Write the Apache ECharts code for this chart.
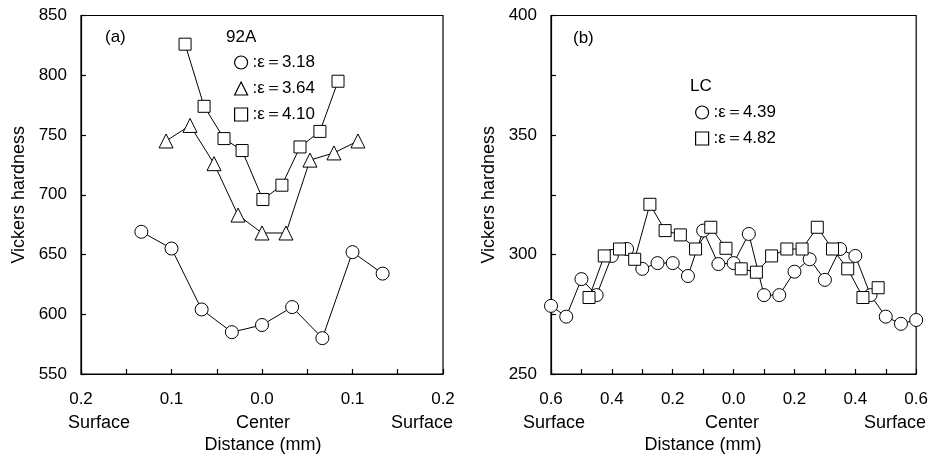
<!DOCTYPE html>
<html><head><meta charset="utf-8">
<script src="https://cdn.jsdelivr.net/npm/echarts@6/dist/echarts.min.js"></script>
<style>html,body{margin:0;padding:0;background:#fff}#c{width:931px;height:456px}</style>
</head><body><div id="c"></div>
<script>
// Panel (a): 92A
const a318X = [-0.1333,-0.1,-0.0667,-0.0333,0,0.0333,0.0667,0.1,0.1333];
const a318Y = [669,655,604,585,591,606,580,652,634];
const a364X = [-0.106,-0.0795,-0.053,-0.0265,0,0.0265,0.053,0.0795,0.106];
const a364Y = [745,758,726,683,668,668,729,735,745];
const a410X = [-0.085,-0.064,-0.042,-0.022,0.001,0.022,0.042,0.064,0.084];
const a410Y = [826,774,747,737,696,708,740,753,795];
// Panel (b): LC
const b439X = [-0.6,-0.55,-0.5,-0.45,-0.4,-0.35,-0.3,-0.25,-0.2,-0.15,-0.1,-0.05,0,0.05,0.1,0.15,0.2,0.25,0.3,0.35,0.4,0.45,0.5,0.55,0.6];
const b439Y = [278.5,274,289.7,283,299.4,302.3,294,296.4,296.4,291,310,296,296.4,308.6,283,283,292.8,298,289.4,302.3,299.4,283,274,271,272.6];
const b482X = [-0.475,-0.425,-0.375,-0.325,-0.275,-0.225,-0.175,-0.125,-0.075,-0.025,0.025,0.075,0.125,0.175,0.225,0.275,0.325,0.375,0.425,0.475];
const b482Y = [282,299.4,302.3,298,321,310,308.2,302.3,311.4,302.6,294,292.6,299.4,302.3,302.3,311.4,302.3,294,282,286.1];
// Tick/labels
const posLabels = ['Surface','Center','Surface'];
const axisName = 'Vickers hardness';
const xName = 'Distance (mm)';

const pair = (xs, ys) => xs.map((x, i) => [x, ys[i]]);
const FONT = 'Liberation Sans, Arial, sans-serif';
const FS = 17;
const mk = (name, sym, size, xs, ys, idx) => ({
  name, type: 'line', xAxisIndex: idx, yAxisIndex: idx,
  data: pair(xs, ys), symbol: sym, symbolSize: size,
  lineStyle: {color: '#000', width: 1},
  itemStyle: {color: '#fff', borderColor: '#000', borderWidth: 1},
  emphasis: {disabled: true}, animation: false, z: 3
});
const legIcon = (name, icon) => ({name, icon, itemStyle: {color: '#fff', borderColor: '#000', borderWidth: 1.2}});
const ax = {
  axisLine: {show: true, onZero: false, lineStyle: {color: '#000', width: 1.2}},
  axisTick: {show: true, inside: true, length: 5, lineStyle: {color: '#000', width: 1.2}},
  splitLine: {show: false},
  axisLabel: {color: '#000', fontSize: FS, fontFamily: FONT}
};
const names = ['ε＝3.18', 'ε＝3.64', 'ε＝4.10', 'ε＝4.39', 'ε＝4.82'];
const option = {
  backgroundColor: '#fff',
  animation: false,
  grid: [
    {left: 81, right: 488, top: 15.5, bottom: 82, show: true, borderColor: '#000', borderWidth: 1.2},
    {left: 551, right: 14, top: 15.5, bottom: 82, show: true, borderColor: '#000', borderWidth: 1.2}
  ],
  xAxis: [
    Object.assign({}, ax, {type: 'value', gridIndex: 0, min: -0.2, max: 0.2, interval: 0.05,
      axisLabel: Object.assign({}, ax.axisLabel, {margin: 17,
        formatter: v => (Math.round(v * 100) % 10 === 0) ? Math.abs(v).toFixed(1) : ''})}),
    Object.assign({}, ax, {type: 'value', gridIndex: 1, min: -0.6, max: 0.6, interval: 0.1,
      axisLabel: Object.assign({}, ax.axisLabel, {margin: 17,
        formatter: v => (Math.round(v * 10) % 2 === 0) ? Math.abs(v).toFixed(1) : ''})})
  ],
  yAxis: [
    Object.assign({}, ax, {type: 'value', gridIndex: 0, min: 550, max: 850, interval: 50,
      name: axisName, nameLocation: 'middle', nameGap: 53, nameTextStyle: {color: '#000', fontSize: 18, fontFamily: FONT},
      axisLabel: Object.assign({}, ax.axisLabel, {margin: 14})}),
    Object.assign({}, ax, {type: 'value', gridIndex: 1, min: 250, max: 400, interval: 25,
      name: axisName, nameLocation: 'middle', nameGap: 53, nameTextStyle: {color: '#000', fontSize: 18, fontFamily: FONT},
      axisLabel: Object.assign({}, ax.axisLabel, {margin: 14, formatter: v => (v % 50 === 0) ? String(v) : ''})})
  ],
  legend: [
    {left: 229, top: 49, orient: 'vertical', itemWidth: 13, itemHeight: 13, itemGap: 9, selectedMode: false,
      textStyle: {color: '#000', fontSize: FS, fontFamily: FONT}, formatter: n => ':' + n,
      data: [legIcon(names[0], 'circle'), legIcon(names[1], 'triangle'), legIcon(names[2], 'rect')]},
    {left: 690, top: 99, orient: 'vertical', itemWidth: 13, itemHeight: 13, itemGap: 9, selectedMode: false,
      textStyle: {color: '#000', fontSize: FS, fontFamily: FONT}, formatter: n => ':' + n,
      data: [legIcon(names[3], 'circle'), legIcon(names[4], 'rect')]}
  ],
  series: [
    mk(names[0], 'circle', 13, a318X, a318Y, 0),
    mk(names[1], 'triangle', 14, a364X, a364Y, 0),
    mk(names[2], 'rect', 12, a410X, a410Y, 0),
    mk(names[3], 'circle', 13, b439X, b439Y, 1),
    mk(names[4], 'rect', 12, b482X, b482Y, 1)
  ],
  graphic: [
    {type: 'text', left: 105, top: 29, style: {text: '(a)', font: FS + 'px ' + FONT, fill: '#000'}},
    {type: 'text', left: 226, top: 29, style: {text: '92A', font: FS + 'px ' + FONT, fill: '#000'}},
    {type: 'text', left: 573, top: 30, style: {text: '(b)', font: FS + 'px ' + FONT, fill: '#000'}},
    {type: 'text', left: 690, top: 78, style: {text: 'LC', font: FS + 'px ' + FONT, fill: '#000'}},
    {type: 'text', x: 99, y: 423, style: {text: posLabels[0], font: '18px ' + FONT, fill: '#000', align: 'center', verticalAlign: 'middle'}},
    {type: 'text', x: 263, y: 423, style: {text: posLabels[1], font: '18px ' + FONT, fill: '#000', align: 'center', verticalAlign: 'middle'}},
    {type: 'text', x: 422, y: 423, style: {text: posLabels[2], font: '18px ' + FONT, fill: '#000', align: 'center', verticalAlign: 'middle'}},
    {type: 'text', x: 263, y: 445, style: {text: xName, font: '18px ' + FONT, fill: '#000', align: 'center', verticalAlign: 'middle'}},
    {type: 'text', x: 554, y: 423, style: {text: posLabels[0], font: '18px ' + FONT, fill: '#000', align: 'center', verticalAlign: 'middle'}},
    {type: 'text', x: 732, y: 423, style: {text: posLabels[1], font: '18px ' + FONT, fill: '#000', align: 'center', verticalAlign: 'middle'}},
    {type: 'text', x: 895, y: 423, style: {text: posLabels[2], font: '18px ' + FONT, fill: '#000', align: 'center', verticalAlign: 'middle'}},
    {type: 'text', x: 703, y: 445, style: {text: xName, font: '18px ' + FONT, fill: '#000', align: 'center', verticalAlign: 'middle'}}
  ]
};
const chart = echarts.init(document.getElementById('c'), null, {renderer: 'canvas'});
chart.setOption(option);
</script></body></html>
